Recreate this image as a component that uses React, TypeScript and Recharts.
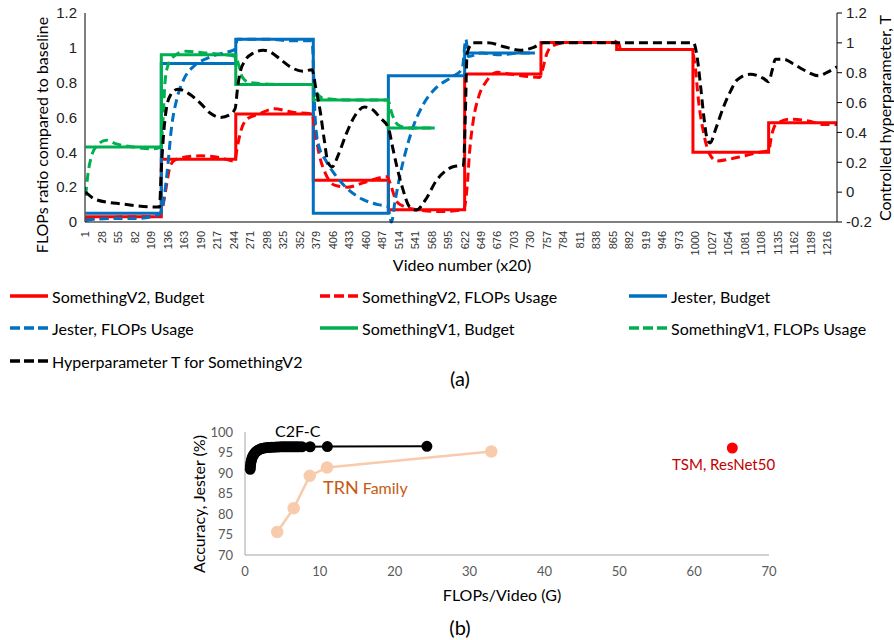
import React from "react";
import { LineChart, Line, XAxis, YAxis } from "recharts";

const RED = "#FF0000";
const BLUE = "#0070C0";
const GREEN = "#00B050";
const BLACK = "#000000";
const TRN = "#F8CBAD";
const SANS = "Lato, 'Open Sans', sans-serif";
const ARIAL = "'Liberation Sans', Arial, sans-serif";

// ---- chart (a): budget tracking, x = video number (x20) ----
const videoTicks = [
  1, 28, 55, 82, 109, 136, 163, 190, 217, 244, 271, 298, 325, 352, 379, 406,
  433, 460, 487, 514, 541, 568, 595, 622, 649, 676, 703, 730, 757, 784, 811,
  838, 865, 892, 919, 946, 973, 1000, 1027, 1054, 1081, 1108, 1135, 1162,
  1189, 1216,
];
const flopsTicks = [0, 0.2, 0.4, 0.6, 0.8, 1, 1.2];
const tempTicks = [-0.2, 0, 0.2, 0.4, 0.6, 0.8, 1, 1.2];

// budgets are step functions: [start video, level]
const v2Budget: [number, number][] = [
  [1, 0.03], [125, 0.36], [247, 0.62], [374, 0.24], [497, 0.07], [622, 0.85],
  [747, 1.03], [871, 0.99], [996, 0.4], [1120, 0.57], [1232, 0.57],
];
const jesterBudget: [number, number][] = [
  [1, 0.05], [125, 0.91], [247, 1.05], [374, 0.05], [497, 0.84], [622, 0.97], [737, 0.97],
];
const v1Budget: [number, number][] = [
  [1, 0.43], [125, 0.96], [247, 0.79], [374, 0.7], [497, 0.54], [573, 0.54],
];

const v2Usage: [number, number][] = [
  [1, 0.02], [30, 0.02], [60, 0.03], [100, 0.03], [122, 0.04], [128, 0.1], [133, 0.2],
  [138, 0.3], [145, 0.35], [160, 0.37], [190, 0.38], [220, 0.37], [245, 0.35], [250, 0.44],
  [256, 0.53], [265, 0.59], [285, 0.62], [310, 0.65], [340, 0.63], [372, 0.62], [377, 0.52],
  [383, 0.4], [395, 0.27], [410, 0.21], [430, 0.2], [460, 0.23], [495, 0.26], [502, 0.2],
  [510, 0.12], [522, 0.09], [545, 0.07], [580, 0.06], [620, 0.07], [626, 0.2], [630, 0.4],
  [636, 0.58], [645, 0.72], [658, 0.81], [675, 0.86], [695, 0.85], [715, 0.84], [745, 0.83],
  [750, 0.88], [756, 0.96], [765, 1.01], [790, 1.03], [830, 1.03], [868, 1.03], [872, 1.05],
  [878, 0.99], [920, 0.99], [994, 0.99], [1000, 0.88], [1005, 0.7], [1013, 0.52], [1022, 0.4],
  [1035, 0.35], [1055, 0.36], [1080, 0.38], [1105, 0.4], [1120, 0.41], [1125, 0.5],
  [1132, 0.56], [1155, 0.59], [1185, 0.58], [1210, 0.56], [1232, 0.56],
];
const jesterUsage: [number, number][] = [
  [1, 0.01], [40, 0.02], [80, 0.02], [120, 0.04], [126, 0.07], [130, 0.15], [135, 0.3],
  [142, 0.55], [150, 0.7], [162, 0.82], [180, 0.9], [200, 0.94], [225, 0.97], [245, 0.99],
  [250, 1.05], [300, 1.05], [340, 1.04], [372, 1.04], [377, 0.6], [382, 0.45], [395, 0.35],
  [410, 0.27], [430, 0.19], [455, 0.13], [480, 0.1], [496, 0.09], [502, 0.0], [508, 0.12],
  [515, 0.25], [525, 0.4], [538, 0.55], [555, 0.68], [575, 0.77], [600, 0.83], [618, 0.88],
  [624, 1.05], [628, 0.95], [650, 0.97], [680, 0.96], [710, 0.97], [737, 0.97],
];
const v1Usage: [number, number][] = [
  [1, 0.15], [5, 0.28], [10, 0.37], [20, 0.44], [35, 0.47], [50, 0.45], [80, 0.43],
  [110, 0.42], [124, 0.43], [128, 0.6], [131, 0.8], [136, 0.9], [145, 0.95], [165, 0.98],
  [200, 0.97], [230, 0.96], [246, 0.95], [252, 0.9], [258, 0.83], [270, 0.8], [320, 0.79],
  [373, 0.79], [380, 0.74], [390, 0.71], [440, 0.7], [496, 0.7], [503, 0.62], [512, 0.56],
  [530, 0.54], [573, 0.54],
];
// hyperparameter T, read on the right axis
const tempV2: [number, number][] = [
  [1, 0.0], [18, -0.05], [62, -0.08], [117, -0.1], [122, -0.1], [125, 0.15], [129, 0.4],
  [133, 0.55], [140, 0.65], [152, 0.69], [170, 0.66], [188, 0.6], [205, 0.53], [221, 0.5],
  [238, 0.52], [246, 0.56], [250, 0.7], [254, 0.8], [262, 0.88], [275, 0.93], [292, 0.95],
  [303, 0.94], [320, 0.89], [336, 0.84], [357, 0.81], [372, 0.82], [378, 0.7], [385, 0.55],
  [392, 0.35], [398, 0.2], [405, 0.17], [415, 0.25], [428, 0.39], [442, 0.51], [458, 0.57],
  [472, 0.55], [483, 0.5], [497, 0.43], [504, 0.3], [511, 0.17], [520, 0.03], [532, -0.1],
  [543, -0.12], [558, -0.05], [576, 0.08], [590, 0.14], [603, 0.17], [620, 0.18], [623, 0.5],
  [626, 0.93], [636, 1.0], [660, 1.0], [690, 0.97], [713, 0.95], [735, 0.97], [751, 1.0],
  [800, 1.0], [900, 1.0], [997, 1.0], [1003, 0.9], [1008, 0.73], [1014, 0.5], [1019, 0.36],
  [1024, 0.33], [1033, 0.42], [1046, 0.57], [1058, 0.68], [1068, 0.75], [1090, 0.79],
  [1112, 0.76], [1120, 0.74], [1126, 0.82], [1131, 0.89], [1145, 0.89], [1160, 0.86],
  [1177, 0.82], [1202, 0.78], [1215, 0.8], [1232, 0.84],
];

// ---- chart (b): accuracy vs cost on Jester ----
const c2fc: [number, number][] = [
  [0.7, 90.9], [0.72, 91.5], [0.75, 92.1], [0.8, 92.7], [0.87, 93.2], [0.95, 93.7],
  [1.05, 94.1], [1.17, 94.5], [1.3, 94.85], [1.45, 95.15], [1.6, 95.4], [1.8, 95.6],
  [2.0, 95.8], [2.2, 95.95], [2.45, 96.05], [2.7, 96.15], [3.0, 96.2], [3.3, 96.25],
  [3.6, 96.3], [3.9, 96.3], [4.2, 96.35], [4.5, 96.35], [4.8, 96.4], [5.1, 96.4],
  [5.4, 96.4], [5.7, 96.4], [6.0, 96.4], [6.3, 96.4], [6.6, 96.4], [6.9, 96.4],
  [7.2, 96.4], [7.6, 96.4], [8.7, 96.4], [11.0, 96.45], [24.3, 96.5],
];
const trnFamily: [number, number][] = [
  [4.3, 75.6], [6.5, 81.4], [8.65, 89.3], [10.95, 91.35], [32.9, 95.25],
];
const tsmResNet50: [number, number][] = [[65.1, 96.1]];
const gflopTicks = [0, 10, 20, 30, 40, 50, 60, 70];
const accTicks = [70, 75, 80, 85, 90, 95, 100];

const rows = (pts: [number, number][]) => pts.map(([x, y]) => ({ x, y }));

const legendItems = [
  { name: "SomethingV2, Budget", color: RED, dashed: false },
  { name: "SomethingV2, FLOPs Usage", color: RED, dashed: true },
  { name: "Jester, Budget", color: BLUE, dashed: false },
  { name: "Jester, FLOPs Usage", color: BLUE, dashed: true },
  { name: "SomethingV1, Budget", color: GREEN, dashed: false },
  { name: "SomethingV1, FLOPs Usage", color: GREEN, dashed: true },
  { name: "Hyperparameter T for SomethingV2", color: BLACK, dashed: true },
];

function VideoTick(props: any) {
  const { x, y, payload } = props;
  return (
    <text
      x={0}
      y={0}
      dy="0.35em"
      textAnchor="end"
      fontSize={11}
      fill="#333"
      fontFamily={ARIAL}
      transform={`translate(${x},${y + 1}) rotate(-90)`}
    >
      {payload.value}
    </text>
  );
}

function Txt(props: {
  x: number;
  y: number;
  size?: number;
  color?: string;
  rotate?: boolean;
  center?: boolean;
  children: React.ReactNode;
}) {
  const { x, y, size = 16, color = "#000", rotate, center = true, children } = props;
  return (
    <div
      style={{
        position: "absolute",
        left: x,
        top: y,
        fontFamily: SANS,
        fontSize: size,
        color,
        whiteSpace: "nowrap",
        lineHeight: 1,
        transform: `translate(${center ? "-50%" : "0"}, -50%)${rotate ? " rotate(-90deg)" : ""}`,
      }}
    >
      {children}
    </div>
  );
}

const dashed = { strokeDasharray: "9 5", strokeLinecap: "butt" as const };

export default function App() {
  const colX = [10, 320, 629];
  const rowY = [296, 328, 361];
  return (
    <div
      style={{
        position: "absolute",
        left: 0,
        top: 0,
        width: 894,
        height: 640,
        background: "#fff",
        overflow: "hidden",
      }}
    >
      <div style={{ position: "absolute", left: 0, top: 0 }}>
        <LineChart width={894} height={285} margin={{ top: 13, right: 0, bottom: 0, left: 0 }}>
          <XAxis
            dataKey="x"
            type="number"
            domain={[0, 1232]}
            ticks={videoTicks}
            interval={0}
            tick={<VideoTick />}
            tickLine={false}
            height={63}
            stroke="#000"
            allowDataOverflow
          />
          <YAxis
            yAxisId="left"
            domain={[0, 1.2]}
            ticks={flopsTicks}
            interval={0}
            width={85}
            tickLine={false}
            stroke="#000"
            tick={{ fontSize: 15, fill: "#222", fontFamily: ARIAL }}
          />
          <YAxis
            yAxisId="right"
            orientation="right"
            domain={[-0.2, 1.2]}
            ticks={tempTicks}
            interval={0}
            width={57}
            tickSize={5}
            tickMargin={4}
            stroke="#000"
            tick={{ fontSize: 15, fill: "#222", fontFamily: ARIAL }}
          />
          <Line yAxisId="left" data={rows(v2Budget)} dataKey="y" type="stepAfter" stroke={RED} strokeWidth={3} dot={false} isAnimationActive={false} />
          <Line yAxisId="left" data={rows(jesterBudget)} dataKey="y" type="stepAfter" stroke={BLUE} strokeWidth={3} dot={false} isAnimationActive={false} />
          <Line yAxisId="left" data={rows(v1Budget)} dataKey="y" type="stepAfter" stroke={GREEN} strokeWidth={3} dot={false} isAnimationActive={false} />
          <Line yAxisId="left" data={rows(v2Usage)} dataKey="y" type="monotone" stroke={RED} strokeWidth={3} {...dashed} dot={false} isAnimationActive={false} />
          <Line yAxisId="left" data={rows(jesterUsage)} dataKey="y" type="monotone" stroke={BLUE} strokeWidth={3} {...dashed} dot={false} isAnimationActive={false} />
          <Line yAxisId="left" data={rows(v1Usage)} dataKey="y" type="monotone" stroke={GREEN} strokeWidth={3} {...dashed} dot={false} isAnimationActive={false} />
          <Line yAxisId="right" data={rows(tempV2)} dataKey="y" type="monotone" stroke={BLACK} strokeWidth={3} {...dashed} dot={false} isAnimationActive={false} />
        </LineChart>
      </div>

      <Txt x={42} y={135} rotate>FLOPs ratio compared to baseline</Txt>
      <Txt x={885} y={118} rotate>Controlled hyperparameter, T</Txt>
      <Txt x={462} y={265}>Video number (x20)</Txt>

      {legendItems.map((item, i) => {
        const col = i % 3;
        const row = Math.floor(i / 3);
        return (
          <div
            key={item.name}
            style={{
              position: "absolute",
              left: colX[col],
              top: rowY[row] - 10,
              height: 20,
              display: "flex",
              alignItems: "center",
              fontFamily: SANS,
              fontSize: 16,
              whiteSpace: "nowrap",
            }}
          >
            <svg width={38} height={6} style={{ marginRight: 4 }}>
              <line
                x1={0}
                y1={3}
                x2={38}
                y2={3}
                stroke={item.color}
                strokeWidth={3.5}
                strokeDasharray={item.dashed ? "10 4" : undefined}
              />
            </svg>
            {item.name}
          </div>
        );
      })}
      <Txt x={460} y={378} size={20}>(a)</Txt>

      <div style={{ position: "absolute", left: 0, top: 400 }}>
        <LineChart width={800} height={200} margin={{ top: 32, right: 31, bottom: 20, left: 205 }}>
          <XAxis
            dataKey="x"
            type="number"
            domain={[0, 70]}
            ticks={gflopTicks}
            interval={0}
            tickLine={false}
            tickSize={8}
            tickMargin={4}
            height={25}
            stroke="#a6a6a6"
            tick={{ fontSize: 13, fill: "#595959", fontFamily: SANS }}
          />
          <YAxis
            domain={[70, 100]}
            ticks={accTicks}
            interval={0}
            width={40}
            tickLine={false}
            tickSize={8}
            tickMargin={4}
            stroke="#a6a6a6"
            tick={{ fontSize: 13, fill: "#595959", fontFamily: SANS }}
          />
          <Line data={rows(trnFamily)} dataKey="y" type="linear" stroke={TRN} strokeWidth={2.5} dot={{ r: 5, fill: TRN, stroke: TRN }} isAnimationActive={false} />
          <Line data={rows(c2fc)} dataKey="y" type="linear" stroke={BLACK} strokeWidth={2} dot={{ r: 4.5, fill: BLACK, stroke: BLACK }} isAnimationActive={false} />
          <Line data={rows(tsmResNet50)} dataKey="y" type="linear" stroke={RED} strokeWidth={2} dot={{ r: 4.5, fill: RED, stroke: RED }} isAnimationActive={false} />
        </LineChart>
      </div>

      <Txt x={199} y={504} rotate>Accuracy, Jester (%)</Txt>
      <Txt x={502} y={595}>FLOPs/Video (G)</Txt>
      <Txt x={275} y={431} center={false}>C2F-C</Txt>
      <Txt x={323} y={487} center={false} color="#C55A11">
        <span style={{ fontSize: 18 }}>TRN</span> Family
      </Txt>
      <Txt x={672} y={464} center={false} color="#C00000" size={15}>TSM, ResNet50</Txt>
      <Txt x={460} y={627} size={20}>(b)</Txt>
    </div>
  );
}
